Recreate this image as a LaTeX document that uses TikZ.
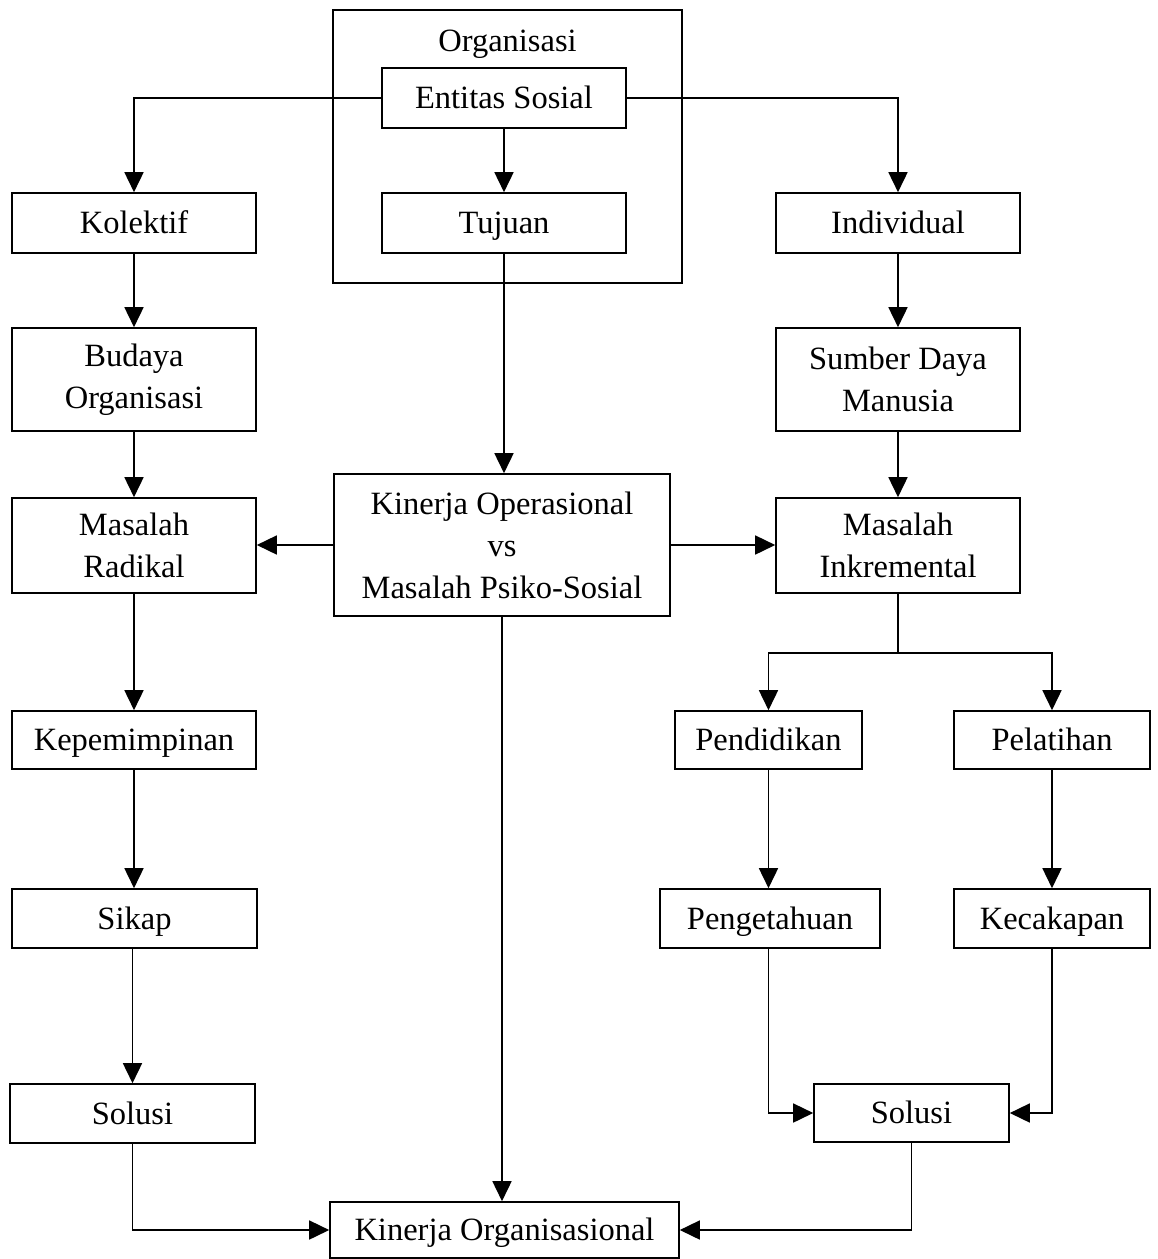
\documentclass[tikz,border=0pt]{standalone}
\usepackage{fontspec}
\setmainfont{Liberation Serif}
\usetikzlibrary{arrows.meta}
\begin{document}
\begin{tikzpicture}[x=1pt,y=-1pt,
  box/.style={draw, line width=1.6pt, inner sep=0pt, align=center,
    font=\fontsize{32.5}{42}\selectfont},
  one/.style={text height=27.5pt, text depth=6pt},
  arr/.style={line width=1.6pt, -{Triangle[length=20pt,width=19pt]}},
  ln/.style={line width=1.6pt}]
\path[use as bounding box] (0,0) rectangle (1158,1259);

% outer organisation box
\node[box, minimum width=349pt, minimum height=273pt] (org) at (507.5,146.5) {};
\node[font=\fontsize{32.5}{42}\selectfont, inner sep=0pt, one] (orglbl) at (507.5,41) {Organisasi};

\node[box, one, minimum width=244pt, minimum height=60pt] (ent) at (504,98) {Entitas Sosial};
\node[box, one, minimum width=244pt, minimum height=60pt] (tuj) at (504,223) {Tujuan};
\node[box, one, minimum width=244pt, minimum height=60pt] (kol) at (134,223) {Kolektif};
\node[box, one, minimum width=244pt, minimum height=60pt] (ind) at (898,223) {Individual};
\node[box, minimum width=244pt, minimum height=103pt] (bud) at (134,379.5) {Budaya\\Organisasi};
\node[box, minimum width=244pt, minimum height=103pt] (sdm) at (898,379.5) {Sumber Daya\\Manusia};
\node[box, minimum width=244pt, minimum height=95pt] (rad) at (134,545.5) {Masalah\\Radikal};
\node[box, minimum width=336pt, minimum height=142pt] (kop) at (502,545) {Kinerja Operasional\\vs\\Masalah Psiko-Sosial};
\node[box, minimum width=244pt, minimum height=95pt] (ink) at (898,545.5) {Masalah\\Inkremental};
\node[box, one, minimum width=244pt, minimum height=58pt] (kep) at (134,740) {Kepemimpinan};
\node[box, one, minimum width=187pt, minimum height=58pt] (pend) at (768.5,740) {Pendidikan};
\node[box, one, minimum width=196pt, minimum height=58pt] (pel) at (1052,740) {Pelatihan};
\node[box, one, minimum width=245pt, minimum height=59pt] (sik) at (134.5,918.5) {Sikap};
\node[box, one, minimum width=220pt, minimum height=59pt] (peng) at (770,918.5) {Pengetahuan};
\node[box, one, minimum width=196pt, minimum height=59pt] (kec) at (1052,918.5) {Kecakapan};
\node[box, one, minimum width=245pt, minimum height=59pt] (sol1) at (132.5,1113.5) {Solusi};
\node[box, one, minimum width=195pt, minimum height=58pt] (sol2) at (911.5,1113) {Solusi};
\node[box, one, minimum width=349pt, minimum height=56pt] (kor) at (504.5,1230) {Kinerja Organisasional};

% top branches
\draw[arr] (ent.west) -| (kol.north);
\draw[arr] (ent.east) -| (ind.north);
\draw[arr] (ent.south) -- (tuj.north);
\draw[arr] (tuj.south) -- (tuj.south |- kop.north);

% left column
\draw[arr] (kol.south) -- (bud.north);
\draw[arr] (bud.south) -- (rad.north);
\draw[arr] (rad.south) -- (kep.north);
\draw[arr] (kep.south) -- (kep.south |- sik.north);
\draw[arr] (sol1.north |- sik.south) -- (sol1.north);
\draw[arr] (sol1.south) |- (kor.west);

% middle
\draw[arr] (kop.west) -- (kop.west -| rad.east);
\draw[arr] (kop.east) -- (kop.east -| ink.west);
\draw[arr] (kop.south) -- (kop.south |- kor.north);

% right column
\draw[arr] (ind.south) -- (sdm.north);
\draw[arr] (sdm.south) -- (ink.north);
\coordinate (jn) at (898,653);
\draw[ln] (ink.south) -- (jn);
\draw[arr] (jn) -| (pend.north);
\draw[arr] (jn) -| (pel.north);
\draw[arr] (pend.south) -- (pend.south |- peng.north);
\draw[arr] (pend.south |- peng.south) |- (sol2.west);
\draw[arr] (pel.south) -- (kec.north);
\draw[arr] (kec.south) |- (sol2.east);
\draw[arr] (sol2.south) |- (kor.east);
\end{tikzpicture}
\end{document}
